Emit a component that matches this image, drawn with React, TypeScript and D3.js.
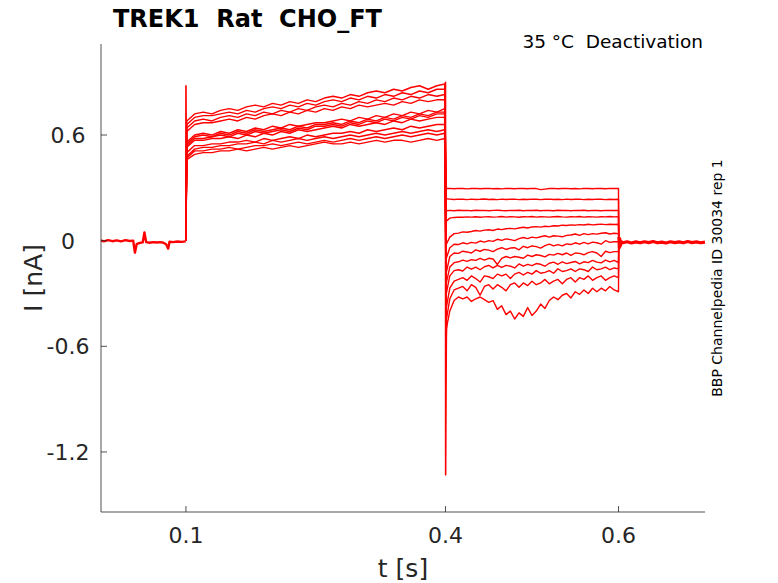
import * as d3 from 'd3'

// time grids (s)
const actT = [0.101, 0.11, 0.12, 0.13, 0.14, 0.15, 0.16, 0.17, 0.18, 0.19, 0.2, 0.21, 0.22, 0.23, 0.24, 0.25, 0.26, 0.27, 0.28, 0.29, 0.3, 0.31, 0.32, 0.33, 0.34, 0.35, 0.36, 0.37, 0.38, 0.39, 0.399]
const tailT = [0.401, 0.405, 0.41, 0.415, 0.42, 0.425, 0.43, 0.435, 0.44, 0.445, 0.45, 0.455, 0.46, 0.465, 0.47, 0.475, 0.48, 0.485, 0.49, 0.495, 0.5, 0.505, 0.51, 0.515, 0.52, 0.525, 0.53, 0.535, 0.54, 0.545, 0.55, 0.555, 0.56, 0.565, 0.57, 0.575, 0.58, 0.585, 0.59, 0.595, 0.6]
const preT = [0.0018, 0.005, 0.01, 0.015, 0.02, 0.025, 0.03, 0.035, 0.039, 0.041, 0.043, 0.045, 0.047, 0.05, 0.052, 0.054, 0.058, 0.062, 0.066, 0.07, 0.074, 0.077, 0.0795, 0.081, 0.085, 0.09, 0.095, 0.0998]
const postT = [0.6005, 0.601, 0.6015, 0.602, 0.603, 0.605, 0.61, 0.615, 0.62, 0.625, 0.63, 0.635, 0.64, 0.645, 0.65, 0.655, 0.66, 0.665, 0.67, 0.675, 0.68, 0.685, 0.69, 0.695, 0.7]

// baseline current (nA)
const preI = [0.002, -0.004, 0.003, -0.003, 0.002, -0.004, 0.003, -0.002, 0.0, -0.068, -0.02, -0.015, -0.012, -0.01, 0.047, -0.008, -0.012, -0.008, -0.01, -0.008, -0.012, -0.02, -0.045, -0.006, -0.008, -0.005, -0.007, -0.004]
const postI = [0.02, -0.04, 0.01, -0.03, -0.005, -0.012, -0.006, -0.013, -0.007, -0.012, -0.006, -0.011, -0.005, -0.012, -0.008, -0.013, -0.006, -0.011, -0.007, -0.012, -0.005, -0.011, -0.007, -0.012, -0.008]

// capacitive transients
const spikeOnT = [0.0998, 0.1, 0.1003, 0.101]
const spikeOnI = [0.0, 0.88, 0.62, 0.5]
const spikeOffT = [0.3998, 0.4, 0.4002, 0.4006, 0.401, 0.4015]
const spikeOffI = [0.87, 0.9, -1.33, -0.9, -0.55, -0.45]

// activation phase, one row per sweep (nA)
const act1 = [0.68, 0.72, 0.73, 0.72, 0.74, 0.75, 0.74, 0.76, 0.77, 0.76, 0.78, 0.77, 0.79, 0.78, 0.8, 0.79, 0.81, 0.82, 0.81, 0.83, 0.82, 0.84, 0.85, 0.84, 0.86, 0.85, 0.87, 0.88, 0.86, 0.88, 0.89]
const act2 = [0.66, 0.7, 0.71, 0.71, 0.72, 0.73, 0.72, 0.74, 0.73, 0.75, 0.76, 0.75, 0.77, 0.76, 0.78, 0.77, 0.79, 0.8, 0.79, 0.81, 0.8, 0.82, 0.81, 0.83, 0.82, 0.84, 0.83, 0.85, 0.84, 0.86, 0.86]
const act3 = [0.64, 0.68, 0.69, 0.68, 0.7, 0.71, 0.7, 0.72, 0.71, 0.73, 0.72, 0.74, 0.73, 0.75, 0.74, 0.76, 0.77, 0.76, 0.78, 0.77, 0.79, 0.78, 0.8, 0.79, 0.81, 0.8, 0.82, 0.81, 0.83, 0.82, 0.83]
const act4 = [0.62, 0.66, 0.67, 0.67, 0.68, 0.69, 0.68, 0.7, 0.69, 0.71, 0.72, 0.71, 0.73, 0.72, 0.74, 0.73, 0.75, 0.74, 0.76, 0.75, 0.77, 0.76, 0.77, 0.78, 0.77, 0.79, 0.78, 0.8, 0.79, 0.8, 0.8]
const act5 = [0.56, 0.6, 0.61, 0.6, 0.62, 0.61, 0.63, 0.62, 0.64, 0.63, 0.65, 0.64, 0.66, 0.65, 0.66, 0.67, 0.67, 0.68, 0.69, 0.68, 0.7, 0.69, 0.71, 0.7, 0.72, 0.71, 0.73, 0.72, 0.74, 0.73, 0.75]
const act6 = [0.55, 0.59, 0.6, 0.59, 0.61, 0.6, 0.62, 0.61, 0.63, 0.62, 0.63, 0.64, 0.63, 0.65, 0.64, 0.66, 0.66, 0.67, 0.66, 0.68, 0.67, 0.69, 0.68, 0.7, 0.69, 0.71, 0.7, 0.72, 0.71, 0.73, 0.73]
const act7 = [0.54, 0.58, 0.58, 0.59, 0.6, 0.59, 0.61, 0.6, 0.62, 0.61, 0.62, 0.63, 0.62, 0.64, 0.63, 0.65, 0.65, 0.66, 0.65, 0.67, 0.66, 0.68, 0.67, 0.69, 0.68, 0.7, 0.69, 0.71, 0.7, 0.72, 0.72]
const act8 = [0.53, 0.57, 0.57, 0.58, 0.58, 0.59, 0.58, 0.6, 0.59, 0.61, 0.6, 0.62, 0.61, 0.63, 0.62, 0.63, 0.64, 0.65, 0.64, 0.66, 0.65, 0.66, 0.67, 0.66, 0.68, 0.67, 0.69, 0.68, 0.69, 0.7, 0.7]
const act9 = [0.5, 0.54, 0.54, 0.55, 0.55, 0.56, 0.56, 0.57, 0.56, 0.58, 0.57, 0.58, 0.59, 0.58, 0.6, 0.59, 0.6, 0.61, 0.61, 0.62, 0.61, 0.63, 0.62, 0.63, 0.64, 0.63, 0.65, 0.64, 0.65, 0.66, 0.66]
const act10 = [0.48, 0.52, 0.53, 0.53, 0.54, 0.54, 0.55, 0.55, 0.56, 0.55, 0.57, 0.56, 0.57, 0.58, 0.57, 0.58, 0.59, 0.58, 0.59, 0.6, 0.59, 0.6, 0.61, 0.6, 0.61, 0.62, 0.61, 0.62, 0.63, 0.62, 0.63]
const act11 = [0.47, 0.51, 0.51, 0.52, 0.52, 0.53, 0.52, 0.53, 0.54, 0.54, 0.55, 0.54, 0.55, 0.56, 0.55, 0.56, 0.57, 0.56, 0.57, 0.58, 0.57, 0.58, 0.59, 0.58, 0.59, 0.6, 0.59, 0.6, 0.61, 0.6, 0.61]
const act12 = [0.46, 0.49, 0.5, 0.5, 0.51, 0.51, 0.52, 0.51, 0.52, 0.53, 0.52, 0.53, 0.54, 0.53, 0.54, 0.55, 0.56, 0.55, 0.55, 0.56, 0.55, 0.56, 0.57, 0.56, 0.57, 0.57, 0.56, 0.57, 0.58, 0.57, 0.58]

// deactivation tails, one row per sweep (nA)
const tail1 = [0.296, 0.297, 0.295, 0.297, 0.296, 0.294, 0.296, 0.297, 0.295, 0.296, 0.297, 0.295, 0.296, 0.294, 0.297, 0.296, 0.295, 0.297, 0.296, 0.295, 0.297, 0.296, 0.29, 0.293, 0.296, 0.297, 0.295, 0.296, 0.297, 0.295, 0.296, 0.294, 0.297, 0.296, 0.295, 0.297, 0.296, 0.295, 0.297, 0.296, 0.296]
const tail2 = [0.238, 0.236, 0.234, 0.236, 0.235, 0.233, 0.236, 0.234, 0.235, 0.237, 0.234, 0.235, 0.233, 0.236, 0.234, 0.235, 0.236, 0.233, 0.235, 0.234, 0.236, 0.235, 0.233, 0.235, 0.236, 0.234, 0.235, 0.233, 0.236, 0.234, 0.235, 0.236, 0.233, 0.235, 0.234, 0.236, 0.235, 0.233, 0.235, 0.234, 0.235]
const tail3 = [0.17, 0.172, 0.17, 0.173, 0.171, 0.172, 0.17, 0.173, 0.171, 0.172, 0.17, 0.172, 0.173, 0.171, 0.17, 0.172, 0.171, 0.173, 0.17, 0.172, 0.171, 0.173, 0.17, 0.172, 0.171, 0.17, 0.173, 0.171, 0.172, 0.17, 0.172, 0.171, 0.173, 0.17, 0.172, 0.171, 0.17, 0.172, 0.171, 0.172, 0.171]
const tail4 = [0.11, 0.128, 0.132, 0.134, 0.133, 0.135, 0.134, 0.136, 0.133, 0.135, 0.136, 0.134, 0.135, 0.137, 0.134, 0.136, 0.135, 0.133, 0.136, 0.135, 0.137, 0.134, 0.136, 0.135, 0.134, 0.136, 0.137, 0.135, 0.134, 0.136, 0.135, 0.137, 0.134, 0.136, 0.135, 0.134, 0.136, 0.135, 0.137, 0.135, 0.136]
const tail5 = [-0.02, 0.02, 0.04, 0.043, 0.05, 0.048, 0.052, 0.058, 0.054, 0.06, 0.062, 0.058, 0.066, 0.063, 0.068, 0.07, 0.067, 0.072, 0.076, 0.072, 0.078, 0.08, 0.077, 0.082, 0.08, 0.085, 0.083, 0.088, 0.086, 0.09, 0.088, 0.091, 0.089, 0.093, 0.09, 0.092, 0.094, 0.091, 0.093, 0.092, 0.093]
const tail6 = [-0.1, -0.04, -0.02, -0.022, -0.012, -0.018, -0.01, -0.014, -0.002, -0.008, 0.0, -0.004, 0.008, 0.002, 0.01, 0.006, 0.0, 0.012, 0.018, 0.012, 0.02, 0.016, 0.022, 0.028, 0.02, 0.028, 0.026, 0.022, 0.03, 0.032, 0.038, 0.03, 0.04, 0.034, 0.04, 0.037, 0.042, 0.045, 0.038, 0.042, 0.04]
const tail7 = [-0.18, -0.09, -0.07, -0.072, -0.06, -0.064, -0.07, -0.052, -0.06, -0.05, -0.054, -0.062, -0.048, -0.04, -0.05, -0.042, -0.04, -0.052, -0.032, -0.04, -0.03, -0.034, -0.042, -0.028, -0.02, -0.03, -0.022, -0.03, -0.018, -0.022, -0.012, -0.02, -0.01, -0.018, -0.008, -0.012, -0.02, 0.0, -0.01, -0.006, -0.006]
const tail8 = [-0.24, -0.15, -0.125, -0.12, -0.11, -0.118, -0.108, -0.112, -0.1, -0.11, -0.1, -0.104, -0.135, -0.1, -0.09, -0.098, -0.09, -0.094, -0.1, -0.082, -0.09, -0.08, -0.084, -0.092, -0.078, -0.082, -0.072, -0.08, -0.07, -0.084, -0.07, -0.072, -0.08, -0.068, -0.062, -0.07, -0.09, -0.06, -0.068, -0.062, -0.062]
const tail9 = [-0.3, -0.2, -0.17, -0.165, -0.172, -0.15, -0.162, -0.15, -0.165, -0.148, -0.14, -0.155, -0.14, -0.152, -0.14, -0.145, -0.155, -0.132, -0.145, -0.135, -0.142, -0.13, -0.134, -0.145, -0.128, -0.122, -0.134, -0.12, -0.13, -0.124, -0.118, -0.132, -0.12, -0.125, -0.112, -0.122, -0.126, -0.11, -0.12, -0.112, -0.125]
const tail10 = [-0.38, -0.27, -0.23, -0.22, -0.21, -0.225, -0.2, -0.215, -0.235, -0.2, -0.205, -0.215, -0.19, -0.2, -0.19, -0.215, -0.19, -0.18, -0.195, -0.18, -0.19, -0.17, -0.185, -0.18, -0.17, -0.185, -0.16, -0.175, -0.17, -0.16, -0.175, -0.16, -0.165, -0.175, -0.15, -0.165, -0.16, -0.15, -0.165, -0.155, -0.16]
const tail11 = [-0.45, -0.33, -0.28, -0.27, -0.26, -0.285, -0.25, -0.265, -0.31, -0.26, -0.25, -0.275, -0.25, -0.265, -0.285, -0.25, -0.24, -0.265, -0.24, -0.255, -0.23, -0.25, -0.24, -0.22, -0.245, -0.23, -0.22, -0.245, -0.22, -0.21, -0.235, -0.21, -0.22, -0.2, -0.225, -0.21, -0.2, -0.225, -0.21, -0.2, -0.21]
const tail12 = [-0.5, -0.4, -0.34, -0.32, -0.33, -0.32, -0.345, -0.33, -0.32, -0.335, -0.35, -0.34, -0.39, -0.37, -0.42, -0.4, -0.445, -0.41, -0.43, -0.38, -0.425, -0.4, -0.36, -0.385, -0.34, -0.32, -0.335, -0.31, -0.3, -0.325, -0.29, -0.305, -0.28, -0.3, -0.27, -0.29, -0.27, -0.285, -0.26, -0.28, -0.29]

const actSweeps = [act1, act2, act3, act4, act5, act6, act7, act8, act9, act10, act11, act12]
const tailSweeps = [tail1, tail2, tail3, tail4, tail5, tail6, tail7, tail8, tail9, tail10, tail11, tail12]

const xTicks = [0.1, 0.4, 0.6]
const yTicks = [0.6, 0, -0.6, -1.2]

const W = 778
const H = 583
const left = 101
const right = 705
const top = 44
const bottom = 512
const RED = '#ff0000'
const INK = '#262626'
const FONT = 'DejaVu Sans, sans-serif'

export default function App() {
  const x = d3.scaleLinear().domain([0.0018, 0.7]).range([left, right])
  const y = d3.scaleLinear().domain([-1.541, 1.117]).range([bottom, top])

  const line = d3.line<[number, number]>()
    .x(d => x(d[0]))
    .y(d => y(d[1]))

  const zip = (ts: number[], vs: number[]) => ts.map((t, i) => [t, vs[i]] as [number, number])

  // each sweep: step on at 0.1, activation, tail, step back at 0.6
  const sweeps = actSweeps.map((a, k) => [
    [0.0999, 0] as [number, number],
    ...zip(actT, a),
    ...zip(tailT, tailSweeps[k]),
    [0.6003, -0.01] as [number, number],
  ])

  return (
    <svg width={W} height={H} style={{ position: 'absolute', left: 0, top: 0, background: '#fff' }}>
      <rect x={0} y={0} width={W} height={H} fill="#fff" />

      {/* traces */}
      <g fill="none" stroke={RED} strokeLinejoin="round">
        <path d={line(zip(preT, preI)) ?? ''} strokeWidth={2.4} />
        <path d={line(zip(postT, postI)) ?? ''} strokeWidth={3.2} />
        {sweeps.map((s, i) => (
          <path key={i} d={line(s) ?? ''} strokeWidth={1.4} />
        ))}
        <path d={line(zip(spikeOnT, spikeOnI)) ?? ''} strokeWidth={1.6} />
        <path d={line(zip(spikeOffT, spikeOffI)) ?? ''} strokeWidth={1.6} />
      </g>

      {/* axes */}
      <g stroke={INK} strokeWidth={0.8} fill="none">
        <line x1={left} x2={left} y1={top} y2={bottom} />
        <line x1={left} x2={right} y1={bottom} y2={bottom} />
        {xTicks.map(t => (
          <line key={t} x1={x(t)} x2={x(t)} y1={bottom} y2={bottom - 6} />
        ))}
        {yTicks.map(t => (
          <line key={t} x1={left} x2={left + 6} y1={y(t)} y2={y(t)} />
        ))}
      </g>

      <g fill={INK} fontFamily={FONT} fontSize={22}>
        {xTicks.map(t => (
          <text key={t} x={x(t)} y={bottom + 31} textAnchor="middle">{String(t)}</text>
        ))}
        {yTicks.map(t => (
          <text key={t} x={68} y={y(t) + 8} textAnchor="middle">{String(t)}</text>
        ))}
      </g>

      <text x={(left + right) / 2} y={577} textAnchor="middle" fontFamily={FONT} fontSize={25} fill={INK}>t [s]</text>
      <text transform={`translate(42,${(top + bottom) / 2}) rotate(-90)`} textAnchor="middle" fontFamily={FONT} fontSize={25} fill={INK}>I [nA]</text>

      <text x={113} y={27} fontFamily={FONT} fontSize={24} fontWeight="bold" fill="#000" style={{ whiteSpace: 'pre' }}>TREK1  Rat  CHO_FT</text>
      <text x={703} y={48} textAnchor="end" fontFamily={FONT} fontSize={18.5} fill="#000" style={{ whiteSpace: 'pre' }}>35 °C  Deactivation</text>
      <text transform={`translate(722,278) rotate(-90)`} textAnchor="middle" fontFamily={FONT} fontSize={14} fill="#000">BBP Channelpedia ID 30034 rep 1</text>
    </svg>
  )
}
